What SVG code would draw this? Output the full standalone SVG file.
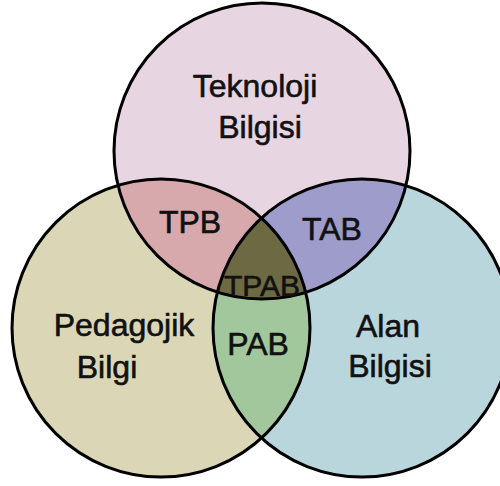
<svg xmlns="http://www.w3.org/2000/svg" width="500" height="486" viewBox="0 0 500 486">
<style>
.lbl{font-family:"Liberation Sans",Arial,sans-serif;font-size:32px;fill:#111;stroke:#111;stroke-width:0.6;text-anchor:middle}
.ring{fill:none;stroke:#000;stroke-width:3}
</style>
<defs>
<clipPath id="cT"><circle cx="262" cy="151" r="148"/></clipPath>
<clipPath id="cL"><circle cx="161" cy="328" r="149"/></clipPath>
<clipPath id="cR"><circle cx="362" cy="328" r="149"/></clipPath>
</defs>
<rect width="500" height="486" fill="#fff"/>
<g id="node-teknoloji">
<circle cx="262" cy="151" r="148" fill="#e8d5e2"/>
</g>
<g id="node-pedagojik">
<circle cx="161" cy="328" r="149" fill="#dbd7b6"/>
</g>
<g id="node-alan">
<circle cx="362" cy="328" r="149" fill="#bad6dd"/>
</g>
<g id="node-tpb" clip-path="url(#cT)">
<circle cx="161" cy="328" r="149" fill="#d7a8ac"/>
</g>
<g id="node-tab" clip-path="url(#cT)">
<circle cx="362" cy="328" r="149" fill="#9e9ccb"/>
</g>
<g id="node-pab" clip-path="url(#cL)">
<circle cx="362" cy="328" r="149" fill="#a3c79d"/>
</g>
<g id="node-tpab" clip-path="url(#cT)">
<g clip-path="url(#cL)">
<circle cx="362" cy="328" r="149" fill="#6c6943"/>
</g>
</g>
<g id="outlines">
<circle class="ring" cx="262" cy="151" r="148"/>
<circle class="ring" cx="161" cy="328" r="149"/>
<circle class="ring" cx="362" cy="328" r="149"/>
</g>
<g id="labels">
<text class="lbl" x="255" y="97">Teknoloji</text>
<text class="lbl" x="260" y="138">Bilgisi</text>
<text class="lbl" x="124" y="336">Pedagojik</text>
<text class="lbl" x="107" y="378">Bilgi</text>
<text class="lbl" x="388" y="337">Alan</text>
<text class="lbl" x="390" y="377">Bilgisi</text>
<text class="lbl" x="190" y="233">TPB</text>
<text class="lbl" x="332" y="240">TAB</text>
<text class="lbl" x="258" y="355">PAB</text>
<text class="lbl" x="262" y="296" style="font-size:30px">TPAB</text>
</g>
</svg>
